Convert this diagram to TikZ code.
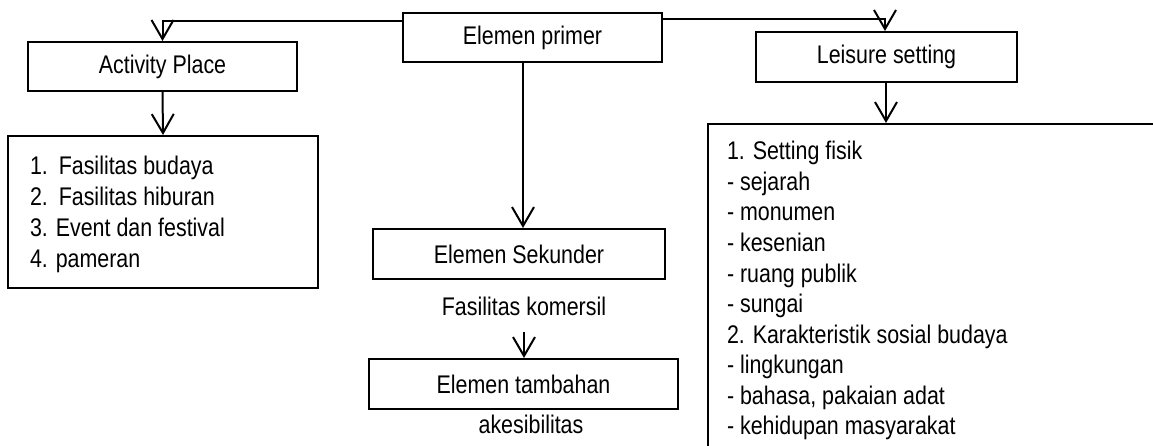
\documentclass[tikz,border=0pt]{standalone}
\usepackage{fontspec}
\setmainfont{Liberation Sans}[FakeStretch=0.84]
\usetikzlibrary{arrows.meta}
\begin{document}
\begin{tikzpicture}[x=1pt,y=-1pt,line width=2pt,
  fnt/.style={font=\fontsize{25.5}{30.5}\selectfont},
  box/.style={draw,rectangle,inner sep=0pt,fnt},
  txt/.style={inner sep=0pt,fnt},
  arr/.style={-{Straight Barb[length=19pt,width=22pt]}}]
\useasboundingbox (0,0) rectangle (1153,446);
\clip (0,0) rectangle (1153,446);
% boxes
\node[box,minimum width=259pt,minimum height=49pt] (primer) at (532.5,37.5) {Elemen primer};
\node[box,minimum width=269pt,minimum height=49pt] (activity) at (162.5,66.5) {Activity Place};
\node[box,minimum width=310pt,minimum height=152pt] (list) at (163,212) {};
\node[box,minimum width=261pt,minimum height=50pt] (leisure) at (886.5,57) {Leisure setting};
\node[box,anchor=north west,minimum width=520pt,minimum height=400pt] (setbox) at (707,123) {};
\node[box,minimum width=292pt,minimum height=50pt] (sekunder) at (519,254) {Elemen Sekunder};
\node[box,minimum width=309pt,minimum height=50pt] (tambahan) at (523.5,384) {Elemen tambahan};
\node[txt,anchor=base] (komersil) at (524,315) {Fasilitas komersil};
\node[txt,anchor=base] (akses) at (531,433) {akesibilitas};
% left list
\node[txt,anchor=base west] (a1) at (29,175) {1.\hspace{3pt} Fasilitas budaya};
\node[txt,anchor=base west] (a2) at (29,205.5) {2.\hspace{3pt} Fasilitas hiburan};
\node[txt,anchor=base west] (a3) at (29,236.5) {3. Event dan festival};
\node[txt,anchor=base west] (a4) at (29,267) {4. pameran};
% right list
\node[txt,anchor=base west] (b1) at (726,160) {1. Setting fisik};
\node[txt,anchor=base west] (b2) at (726,190.5) {- sejarah};
\node[txt,anchor=base west] (b3) at (726,221) {- monumen};
\node[txt,anchor=base west] (b4) at (726,251.5) {- kesenian};
\node[txt,anchor=base west] (b5) at (726,282) {- ruang publik};
\node[txt,anchor=base west] (b6) at (726,312.5) {- sungai};
\node[txt,anchor=base west] (b7) at (726,343) {2. Karakteristik sosial budaya};
\node[txt,anchor=base west] (b8) at (726,373.5) {- lingkungan};
\node[txt,anchor=base west] (b9) at (726,404) {- bahasa, pakaian adat};
\node[txt,anchor=base west] (b10) at (726,434.5) {- kehidupan masyarakat};
% connectors
\draw[arr] ([yshift=16.5pt]primer.west) -| (activity.north);
\draw[arr] ([yshift=18.5pt]primer.east) -| ([xshift=-1.5pt]leisure.north);
\draw[arr] (activity.south) -- (list.north);
\draw[arr] ([xshift=-0.5pt]leisure.south) -- ([xshift=-0.5pt]leisure.south |- setbox.north);
\draw[arr] ([xshift=-9.5pt]primer.south) -- ([xshift=-9.5pt]primer.south |- sekunder.north);
\draw[arr] ([yshift=-17pt]komersil.base) -- (komersil.base |- tambahan.north);
\end{tikzpicture}
\end{document}
